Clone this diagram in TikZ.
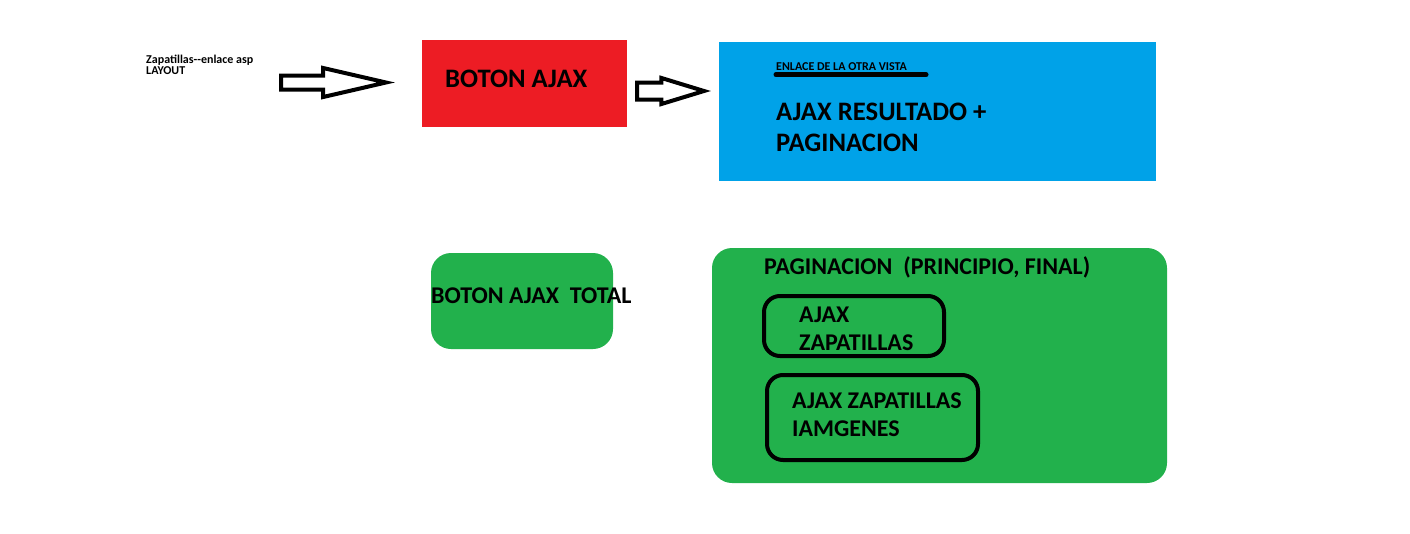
\documentclass[tikz,border=0pt]{standalone}
\usepackage{fontspec}
\setmainfont{Carlito}
\usetikzlibrary{positioning,shapes.arrows}
\definecolor{paintred}{HTML}{ED1C24}
\definecolor{paintblue}{HTML}{00A2E8}
\definecolor{paintgreen}{HTML}{22B14C}

\begin{document}
\begin{tikzpicture}[x=1pt, y=-1pt, inner sep=0pt,
flat box/.style={rectangle,minimum width=#1},
green box/.style={rectangle,rounded corners=20pt,fill=paintgreen,minimum width=#1},
ring box/.style={rectangle,rounded corners=16pt,draw,line width=4pt,minimum width=#1},
fat arrow/.style={single arrow,draw,fill=white,line width=4pt,single arrow head indent=0pt,anchor=tail,inner xsep=0pt,inner ysep=#1},
label huge/.style={anchor=base west,align=left,font=\bfseries\fontsize{26.67}{31.5}\selectfont},
label big/.style={anchor=base west,align=left,font=\bfseries\fontsize{24}{28}\selectfont},
label tiny/.style={anchor=base west,align=left,font=\bfseries\fontsize{12}{11.3}\selectfont}]
\useasboundingbox (0,0) rectangle (1410,533);
% boxes
\node[flat box=205pt,minimum height=87pt,fill=paintred] (ajaxbox) at (524.5,83.5) {};
\node[flat box=437pt,minimum height=139pt,fill=paintblue] (resultbox) at (937.5,111.5) {};
\node[green box=182pt,minimum height=96pt] (totalbox) at (522,301) {};
\node[green box=455pt,minimum height=235pt] (pagbox) at (939.5,365.5) {};
\node[ring box=180pt,minimum height=60pt] (zapbox) at (854,326) {};
\node[ring box=211pt,minimum height=85pt] (imgbox) at (872.5,417.5) {};
% arrows
\node[fat arrow=5pt,minimum height=105pt,single arrow head extend=7.5pt,single arrow tip angle=26] (arr1) at (279,82.5) {};
\node[fat arrow=6.5pt,minimum height=67pt,single arrow head extend=4.5pt,single arrow tip angle=34] (arr2) at (635,91) {};
% labels
\node[label tiny] (layout) at (146,74.3) {Zapatillas-{}-enlace asp\\LAYOUT};
\node[label huge] (ajax) at (445,87) {BOTON AJAX};
\node[label tiny] (enlace) at (776,70.3) {ENLACE DE LA OTRA VISTA};
\draw[line width=5pt,line cap=round] ([yshift=-4.4pt]enlace.base west) -- ++(150,0);
\node[label huge] (resultado) at (776,151.5) {AJAX RESULTADO +\\PAGINACION};
\node[label big] (total) at (431,303) {BOTON AJAX\ \ TOTAL};
\node[label big] (paginacion) at (764,274) {PAGINACION\ \ (PRINCIPIO, FINAL)};
\node[label big] (zapatillas) at (799,350) {AJAX\\ZAPATILLAS};
\node[label big] (imagenes) at (792,436.7) {AJAX ZAPATILLAS\\IAMGENES};
\end{tikzpicture}
\end{document}
